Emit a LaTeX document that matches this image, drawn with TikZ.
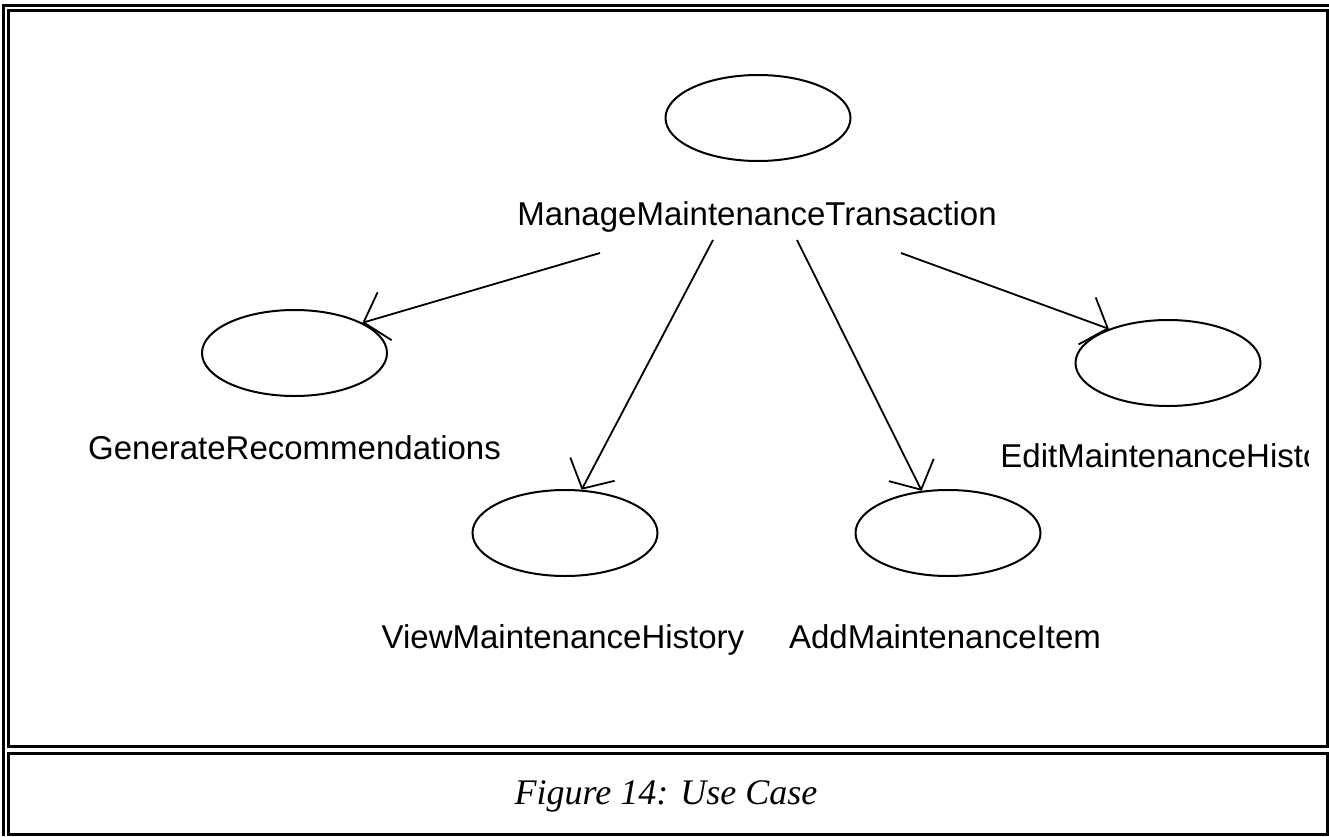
\documentclass[tikz,border=0pt]{standalone}
\usepackage{fontspec}
\setmainfont{Liberation Serif}
\setsansfont{Liberation Sans}
\usetikzlibrary{shapes.geometric,arrows.meta}

\begin{document}
\begin{tikzpicture}[x=0.5pt,y=-0.5pt,
  usecase/.style={draw,ellipse,line width=1pt,minimum width=92.5pt,minimum height=43pt,inner sep=0pt},
  uclabel/.style={font=\sffamily\fontsize{16.5}{19}\selectfont,anchor=base,inner sep=0pt},
  frame/.style={line width=1.5pt},
  dep/.style={line width=0.9pt,-{Straight Barb[length=11pt,width=25pt,line width=0.9pt]}}
]
\useasboundingbox (0,0) rectangle (1329,836);
\fill[white] (0,0) rectangle (1329,836);

% table frame and its two cells
\draw[frame] (3,836) -- (3,5.3) -- (1329,5.3);
\draw[frame] (8.3,10.3) rectangle (1327.5,746);
\draw[frame] (8.3,753) rectangle (1327.5,834);

% use cases
\node[usecase] (manage) at (758,118) {};
\node[usecase] (gen)    at (294.5,353) {};
\node[usecase] (view)   at (565,533) {};
\node[usecase] (add)    at (948,533) {};
\node[usecase] (edit)   at (1168,363) {};

% their names
\node[uclabel] (manageL) at (757,225) {ManageMaintenanceTransaction};
\node[uclabel] (genL)    at (294.5,459) {GenerateRecommendations};
\node[uclabel] (viewL)   at (563,648) {ViewMaintenanceHistory};
\node[uclabel] (addL)    at (945,648) {AddMaintenanceItem};
\begin{scope}
  \clip (0,0) rectangle (1308,836);
  \node[uclabel,anchor=base west] (editL) at (1000,467) {EditMaintenanceHistory};
\end{scope}

% dependencies leaving the top use case
\coordinate (s1) at (600,253);
\coordinate (s2) at (713,240);
\coordinate (s3) at (797,240);
\coordinate (s4) at (901,253);
\draw[dep] (s1) -- (gen.24);
\draw[dep] (s2) -- (view.69);
\draw[dep] (s3) -- (add.122);
\draw[dep] (s4) -- (edit.150);

% caption cell
\node[font=\itshape\fontsize{18}{21}\selectfont,anchor=base] (caption) at (666,804) {Figure 14: Use Case};
\end{tikzpicture}
\end{document}
